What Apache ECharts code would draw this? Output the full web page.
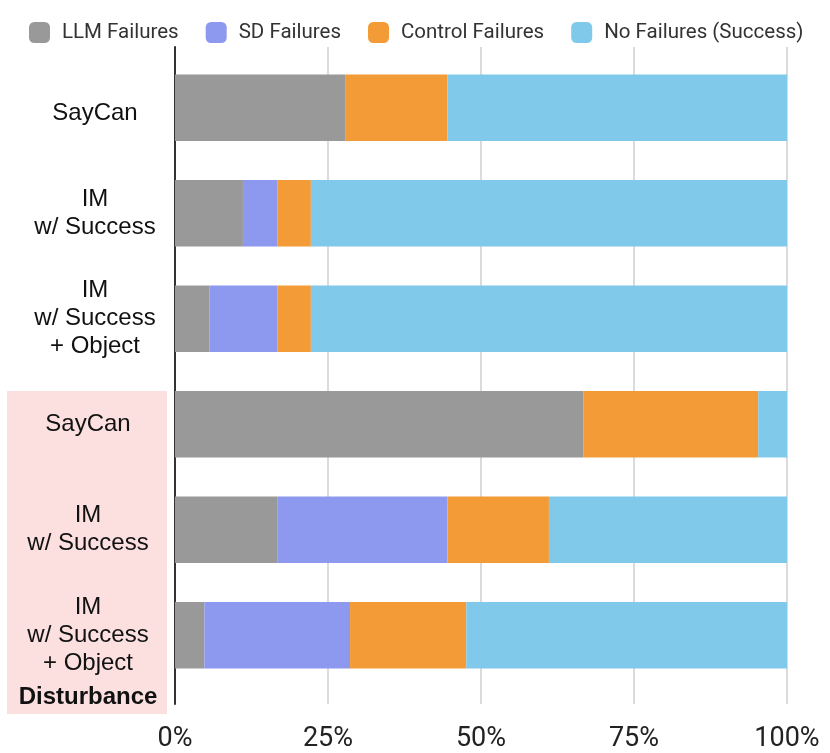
<!DOCTYPE html>
<html>
<head>
<meta charset="utf-8">
<script src="https://cdn.jsdelivr.net/npm/echarts@6/dist/echarts.min.js"></script>
<style>
  html, body { margin: 0; padding: 0; background: #fff; }
  #chart { width: 830px; height: 753px; }
</style>
</head>
<body>
<div id="chart"></div>
<script>
// rows, top to bottom; last three are the "Disturbance" runs
var categories = ['SayCan', 'IM\nw/ Success', 'IM\nw/ Success\n+ Object',
                  'SayCan', 'IM\nw/ Success', 'IM\nw/ Success\n+ Object'];
var disturbed = [false, false, false, true, true, true];

// percent of episodes
var llmFailures     = [27.8, 11.1,  5.6, 66.7, 16.7,  4.8];
var sdFailures      = [ 0.0,  5.6, 11.1,  0.0, 27.8, 23.8];
var controlFailures = [16.7,  5.5,  5.5, 28.6, 16.6, 19.0];
var noFailures      = [55.5, 77.8, 77.8,  4.7, 38.9, 52.4];

var xTicks = [0, 25, 50, 75, 100];

var labelFont = '"Liberation Sans", Arial, sans-serif';

var chart = echarts.init(document.getElementById('chart'));

function stackSeries(name, data, color) {
	return {
		name: name,
		type: 'bar',
		stack: 'all',
		xAxisIndex: 0,
		yAxisIndex: 0,
		barWidth: '63%',
		itemStyle: { color: color },
		data: data
	};
}

var option = {
	animation: false,
	color: ['#999999', '#8d99ee', '#f39c37', '#81c9eb'],
	legend: {
		left: 29,
		top: 22,
		padding: 0,
		icon: 'roundRect',
		itemWidth: 21,
		itemHeight: 21,
		itemGap: 27,
		textStyle: {
			fontFamily: 'Roboto',
			fontSize: 20.5,
			color: '#333',
			padding: [0, 0, 0, 7]
		},
		data: ['LLM Failures', 'SD Failures', 'Control Failures', 'No Failures (Success)']
	},
	graphic: [
		{
			type: 'rect',
			z: 0,
			shape: { x: 7, y: 391, width: 160, height: 323 },
			style: { fill: '#fce0e0' }
		},
		{
			type: 'text',
			z: 100,
			x: 88,
			y: 697,
			style: {
				text: 'Disturbance',
				textAlign: 'center',
				textVerticalAlign: 'middle',
				font: 'bold 24px ' + labelFont,
				fill: '#111'
			}
		}
	],
	grid: [
		{ left: 175, right: 43, top: 55, bottom: 65 },
		{ left: 175, right: 43, top: 47, bottom: 47 }
	],
	xAxis: [
		{ gridIndex: 0, type: 'value', min: 0, max: 100, show: false },
		{
			gridIndex: 1,
			type: 'value',
			min: xTicks[0],
			max: xTicks[xTicks.length - 1],
			interval: 25,
			axisLine: { show: false },
			axisTick: { show: false },
			axisLabel: {
				margin: 22,
				fontFamily: 'Roboto',
				fontSize: 27,
				color: '#222',
				formatter: '{value}%'
			},
			splitLine: { lineStyle: { color: '#cfcfcf', width: 1.5 } }
		}
	],
	yAxis: [
		{
			gridIndex: 0,
			type: 'category',
			inverse: true,
			data: categories,
			axisLine: { show: false },
			axisTick: { show: false },
			axisLabel: {
				margin: 80,
				align: 'center',
				formatter: function(value, index) {
					var key = disturbed[index] ? 'd' : (index === 0 ? 'f' : 'n');
					return value.split('\n').map(function(line) {
						return '{' + key + '|' + line + '}';
					}).join('\n');
				},
				rich: {
					n: { fontFamily: labelFont, fontSize: 24, lineHeight: 28, color: '#111' },
					f: { fontFamily: labelFont, fontSize: 24, lineHeight: 28, color: '#111', padding: [12, 0, 0, 0] },
					d: { fontFamily: labelFont, fontSize: 24, lineHeight: 28, color: '#111', padding: [0, 14, 0, 0] }
				}
			}
		},
		{
			gridIndex: 1,
			type: 'category',
			data: [''],
			axisLine: { show: true, lineStyle: { color: '#333', width: 2 } },
			axisTick: { show: false },
			axisLabel: { show: false },
			splitLine: { show: false }
		}
	],
	series: [
		stackSeries('LLM Failures', llmFailures, '#999999'),
		stackSeries('SD Failures', sdFailures, '#8d99ee'),
		stackSeries('Control Failures', controlFailures, '#f39c37'),
		stackSeries('No Failures (Success)', noFailures, '#81c9eb')
	]
};
chart.setOption(option);
</script>
</body>
</html>
